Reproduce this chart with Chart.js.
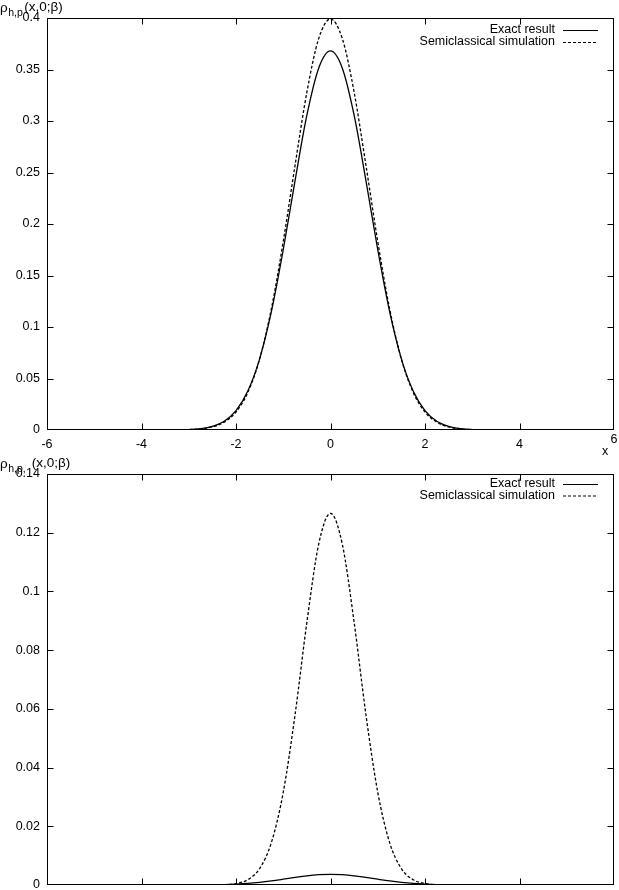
<!DOCTYPE html>
<html><head><meta charset="utf-8">
<script src="https://cdn.jsdelivr.net/npm/chart.js@4.4.0/dist/chart.umd.min.js"></script>
<style>
html,body{margin:0;padding:0;background:#fff;}
#wrap{position:relative;width:619px;height:890px;overflow:hidden;background:#fff;}
#c1{position:absolute;left:0;top:0;}
#c2{position:absolute;left:0;top:450px;}
</style></head><body>
<div id="wrap"><canvas id="c1" width="619" height="470"></canvas><canvas id="c2" width="619" height="440"></canvas></div>
<script>
// ---- data ----
const xValues = [-5,-4.75,-4.5,-4.25,-4,-3.75,-3.5,-3.25,-3,-2.75,-2.5,-2.25,-2,-1.75,-1.5,-1.25,-1,-0.75,-0.5,-0.25,0,0.25,0.5,0.75,1,1.25,1.5,1.75,2,2.25,2.5,2.75,3,3.25,3.5,3.75,4,4.25,4.5,4.75,5];
const topExact = [0,0,0,0,0,0.00001,0.00004,0.00014,0.00046,0.0013,0.0035,0.0085,0.0188,0.0378,0.0691,0.1151,0.1750,0.2422,0.3056,0.3513,0.368,0.3513,0.3056,0.2422,0.1750,0.1151,0.0691,0.0378,0.0188,0.0085,0.0035,0.0013,0.00046,0.00014,0.00004,0.00001,0,0,0,0,0];
const topSemi = [0,0,0,0,0,0.00001,0.00003,0.0001,0.00035,0.0011,0.0030,0.0076,0.0175,0.0365,0.0688,0.118,0.183,0.257,0.328,0.380,0.399,0.380,0.328,0.257,0.183,0.118,0.0688,0.0365,0.0175,0.0076,0.0030,0.0011,0.00035,0.0001,0.00003,0.00001,0,0,0,0,0];
const bottomExact = [0,0,0,0,0,0,0,0,0.00001,0.00003,0.00008,0.00016,0.00031,0.00055,0.00091,0.00139,0.00197,0.00258,0.00313,0.00351,0.00365,0.00351,0.00313,0.00258,0.00197,0.00139,0.00091,0.00055,0.00031,0.00016,0.00008,0.00003,0.00001,0,0,0,0,0,0,0,0];
const bottomSemi = [0,0,0,0,0,0,0,0,0,0,0.00002,0.0001,0.0005,0.0018,0.0056,0.0145,0.0316,0.0580,0.0895,0.1161,0.1266,0.1161,0.0895,0.0580,0.0316,0.0145,0.0056,0.0018,0.0005,0.0001,0.00002,0,0,0,0,0,0,0,0,0,0];

const seriesNames = ['Exact result', 'Semiclassical simulation'];
const xTicks = [-6,-4,-2,0,2,4,6];
const xTickLabels = ['-6','-4','-2','0','2','4','6'];
const topYTicks = [0,0.05,0.1,0.15,0.2,0.25,0.3,0.35,0.4];
const topYTickLabels = ['0','0.05','0.1','0.15','0.2','0.25','0.3','0.35','0.4'];
const bottomYTicks = [0,0.02,0.04,0.06,0.08,0.1,0.12,0.14];
const bottomYTickLabels = ['0','0.02','0.04','0.06','0.08','0.1','0.12','0.14'];
const topTitle = {main:'ρ', sub:'h,p', rest:'(x,0;β)'};
const bottomTitle = {main:'ρ', sub:'h,p,', rest:'(x,0;β)'};
const xAxisLabel = 'x';

// ---- drawing ----
const FONT = '"Liberation Sans", Arial, Helvetica, sans-serif';
Chart.defaults.font.family = FONT;
Chart.defaults.font.size = 12.5;
Chart.defaults.color = '#000';

function pts(ys){ return xValues.map((x,i)=>({x:x, y:ys[i]})); }

function decor(cfg){
  return {
    id:'decor',
    afterDraw(chart){
      const ctx = chart.ctx, a = chart.chartArea;
      const xs = chart.scales.x, ys = chart.scales.y;
      ctx.save();
      ctx.strokeStyle = '#000'; ctx.lineWidth = 1; ctx.setLineDash([]);
      const L = Math.round(a.left)+0.5, R = Math.round(a.right)-0.5, T = Math.round(a.top)+0.5, B = Math.round(a.bottom)-0.5;
      ctx.strokeRect(L, T, R-L, B-T);
      ctx.beginPath();
      xTicks.forEach(v=>{
        const p = Math.round(xs.getPixelForValue(v))+0.5;
        if (p <= L+1 || p >= R-1) return;
        ctx.moveTo(p,B); ctx.lineTo(p,B-6);
        ctx.moveTo(p,T); ctx.lineTo(p,T+6);
      });
      cfg.yTicks.forEach(v=>{
        const p = Math.round(ys.getPixelForValue(v))+0.5;
        if (p <= T+1 || p >= B-1) return;
        ctx.moveTo(L,p); ctx.lineTo(L+6,p);
        ctx.moveTo(R,p); ctx.lineTo(R-6,p);
      });
      ctx.stroke();
      // legend
      ctx.fillStyle = '#000';
      ctx.font = '12.5px ' + FONT;
      ctx.textAlign = 'right'; ctx.textBaseline = 'middle';
      seriesNames.forEach((n,i)=>{
        const y = cfg.legendY[i];
        ctx.fillText(n, 555, y);
        ctx.beginPath();
        ctx.lineWidth = 1.2;
        ctx.setLineDash(i === 1 ? [3,2] : []);
        ctx.moveTo(563, y+0.5); ctx.lineTo(598, y+0.5);
        ctx.stroke();
      });
      ctx.setLineDash([]);
      // y title
      const t = cfg.title, b = cfg.titleBase;
      ctx.textAlign = 'left'; ctx.textBaseline = 'alphabetic';
      ctx.font = '13.5px ' + FONT;
      ctx.fillText(t.main, 0, b);
      let x = ctx.measureText(t.main).width + 0.5;
      ctx.font = '10.5px ' + FONT;
      ctx.fillText(t.sub, x, b+4);
      x += ctx.measureText(t.sub).width + cfg.titleGap;
      ctx.font = '13.5px ' + FONT;
      ctx.fillText(t.rest, x, b-1.5);
      // x label & last tick label
      if (cfg.showXLabel) {
        ctx.font = '12.5px ' + FONT;
        ctx.textAlign = 'center'; ctx.textBaseline = 'middle';
        ctx.fillText(xTickLabels[xTickLabels.length-1], 614, 440);
        ctx.fillText(xAxisLabel, 605, 452);
      }
      ctx.restore();
    }
  };
}

function makeChart(id, exact, semi, yMax, yTicks, yLabels, opts){
  return new Chart(document.getElementById(id), {
    type:'line',
    data:{ datasets:[
      {label:seriesNames[0], data:pts(exact), borderColor:'#000', borderWidth:1.3, pointRadius:0, fill:false, cubicInterpolationMode:'monotone'},
      {label:seriesNames[1], data:pts(semi), borderColor:'#000', borderWidth:1.3, borderDash:[3,2], pointRadius:0, fill:false, cubicInterpolationMode:'monotone'}
    ]},
    options:{
      responsive:false, animation:false, events:[],
      layout:{padding:{left:0, right:5, top:opts.padTop, bottom:0}},
      plugins:{legend:{display:false}, tooltip:{enabled:false}},
      scales:{
        x:{type:'linear', min:-6, max:6,
           grid:{display:false, drawTicks:false}, border:{display:false},
           afterBuildTicks(s){ s.ticks = xTicks.map(v=>({value:v})); },
           afterFit(s){ s.height = opts.xHeight; s.paddingLeft = 0; s.paddingRight = 0; },
           ticks:{display:opts.xLabels, padding:7, maxRotation:0, autoSkip:false,
             callback:(v,i)=> (i === xTicks.length-1 ? '' : xTickLabels[i])}},
        y:{type:'linear', min:0, max:yMax,
           grid:{display:false, drawTicks:false}, border:{display:false},
           afterBuildTicks(s){ s.ticks = yTicks.map(v=>({value:v})); },
           afterFit(s){ s.width = 47; s.paddingTop = 0; s.paddingBottom = 0; },
           ticks:{padding:7, autoSkip:false, callback:(v,i)=>yLabels[i]}}
      }
    },
    plugins:[decor({yTicks:yTicks, legendY:opts.legendY, title:opts.title, titleBase:opts.titleBase, titleGap:opts.titleGap, showXLabel:opts.xLabels})]
  });
}

makeChart('c1', topExact, topSemi, 0.4, topYTicks, topYTickLabels,
  {padTop:18, xHeight:40, xLabels:true, legendY:[30,42], title:topTitle, titleBase:12, titleGap:1.5});
makeChart('c2', bottomExact, bottomSemi, 0.14, bottomYTicks, bottomYTickLabels,
  {padTop:24, xHeight:5, xLabels:false, legendY:[34,45.5], title:bottomTitle, titleBase:18, titleGap:6});
</script>
</body></html>
